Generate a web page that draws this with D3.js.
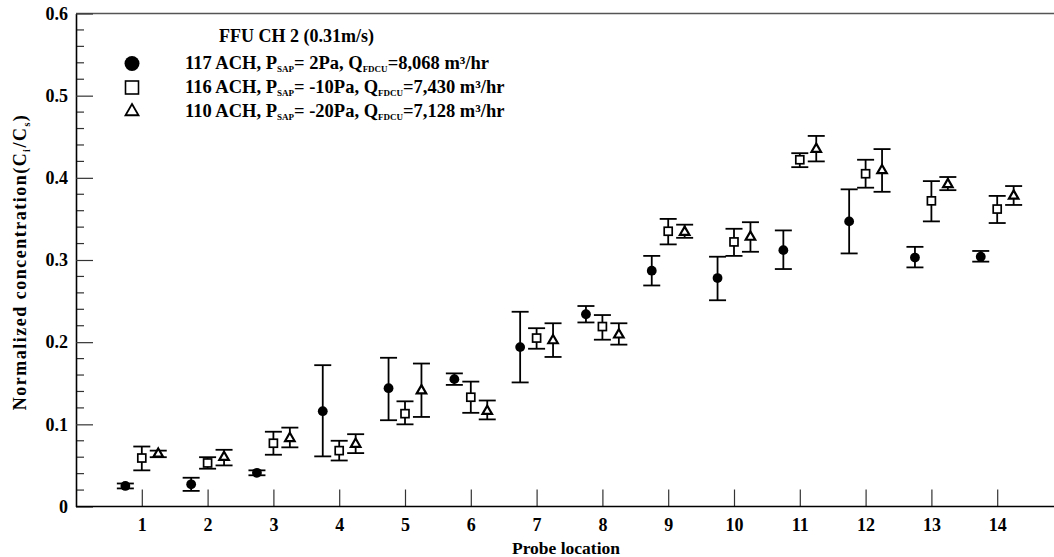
<!DOCTYPE html>
<html>
<head>
<meta charset="utf-8">
<script src="https://cdn.jsdelivr.net/npm/d3@7"></script>
<style>
body { margin: 0; background: #fff; }
svg { display: block; font-family: "Liberation Serif", "Times New Roman", serif; font-weight: bold; }
</style>
</head>
<body>
<svg id="chart" width="1054" height="557"></svg>
<script>
// probe locations
var probes = [1, 2, 3, 4, 5, 6, 7, 8, 9, 10, 11, 12, 13, 14];

// 117 ACH (filled circle)
var s1Mean = [0.025, 0.027, 0.041, 0.116, 0.144, 0.155, 0.194, 0.234, 0.287, 0.278, 0.312, 0.347, 0.303, 0.304];
var s1High = [0.028, 0.035, 0.044, 0.172, 0.181, 0.162, 0.237, 0.244, 0.305, 0.304, 0.336, 0.386, 0.316, 0.311];
var s1Low  = [0.022, 0.019, 0.038, 0.061, 0.105, 0.148, 0.151, 0.224, 0.269, 0.251, 0.289, 0.308, 0.291, 0.298];

// 116 ACH (open square)
var s2Mean = [0.059, 0.053, 0.077, 0.068, 0.113, 0.133, 0.205, 0.219, 0.335, 0.322, 0.422, 0.405, 0.372, 0.362];
var s2High = [0.073, 0.060, 0.091, 0.080, 0.128, 0.152, 0.217, 0.233, 0.350, 0.338, 0.430, 0.422, 0.396, 0.378];
var s2Low  = [0.044, 0.046, 0.063, 0.056, 0.100, 0.114, 0.192, 0.203, 0.319, 0.305, 0.413, 0.388, 0.347, 0.345];

// 110 ACH (open triangle)
var s3Mean = [0.064, 0.060, 0.083, 0.076, 0.141, 0.116, 0.202, 0.209, 0.334, 0.328, 0.435, 0.409, 0.392, 0.378];
var s3High = [0.068, 0.069, 0.096, 0.088, 0.174, 0.129, 0.223, 0.223, 0.343, 0.346, 0.451, 0.435, 0.401, 0.390];
var s3Low  = [0.060, 0.050, 0.072, 0.065, 0.109, 0.106, 0.182, 0.197, 0.327, 0.310, 0.420, 0.383, 0.385, 0.367];

var yTicks = [0, 0.1, 0.2, 0.3, 0.4, 0.5, 0.6];
var yTickLabels = ["0", "0.1", "0.2", "0.3", "0.4", "0.5", "0.6"];

var legendTitle = "FFU CH 2 (0.31m/s)";
var legendRows = [
	{ lead: "117 ACH, P", sub1: "SAP", mid: "= 2Pa, Q", sub2: "FDCU", tail: "=8,068 m\u00b3/hr" },
	{ lead: "116 ACH, P", sub1: "SAP", mid: "= -10Pa, Q", sub2: "FDCU", tail: "=7,430 m\u00b3/hr" },
	{ lead: "110 ACH, P", sub1: "SAP", mid: "= -20Pa, Q", sub2: "FDCU", tail: "=7,128 m\u00b3/hr" }
];

const svg = d3.select('#chart');
const plotLeft = 76, plotTop = 13.5, plotBottom = 506.5, plotRight = 1063;

const x = d3.scaleLinear().domain([0, 15]).range([plotLeft, plotRight]);
const y = d3.scaleLinear().domain([0, 0.6]).range([plotBottom, plotTop]);

// top frame line
svg.append('line').attr('x1', plotLeft).attr('x2', 1054).attr('y1', plotTop).attr('y2', plotTop)
	.attr('stroke', '#555').attr('stroke-width', 1.6);

// minor y ticks
const minor = d3.range(0, 0.6001, 0.02).filter(v => Math.abs(v * 10 - Math.round(v * 10)) > 1e-6);
svg.append('g').selectAll('line').data(minor).enter().append('line')
	.attr('x1', plotLeft).attr('x2', plotLeft + 8)
	.attr('y1', d => y(d)).attr('y2', d => y(d))
	.attr('stroke', '#333').attr('stroke-width', 1.2);

// y axis, ticks pointing inside
const yAxis = svg.append('g')
	.attr('transform', `translate(${plotLeft},0)`)
	.call(d3.axisLeft(y).tickValues(yTicks).tickFormat((d, i) => yTickLabels[i]).tickSize(-17).tickPadding(8).tickSizeOuter(0));
yAxis.select('.domain').attr('stroke', '#000').attr('stroke-width', 1.6);
yAxis.selectAll('.tick line').attr('stroke', '#333').attr('stroke-width', 1.2);
yAxis.selectAll('text').attr('font-size', 18).attr('font-weight', 'bold')
	.attr('font-family', '"Liberation Serif", serif').attr('fill', '#000');

// x axis
const xAxis = svg.append('g')
	.attr('transform', `translate(0,${plotBottom})`)
	.call(d3.axisBottom(x).tickValues(probes).tickFormat(d3.format('d')).tickSize(-17).tickPadding(12).tickSizeOuter(0));
xAxis.select('.domain').remove();
svg.append('line').attr('x1', plotLeft).attr('x2', 1054).attr('y1', plotBottom).attr('y2', plotBottom)
	.attr('stroke', '#000').attr('stroke-width', 1.6);
xAxis.selectAll('.tick line').attr('stroke', '#333').attr('stroke-width', 1.2);
xAxis.selectAll('text').attr('font-size', 18).attr('font-weight', 'bold')
	.attr('font-family', '"Liberation Serif", serif').attr('fill', '#000');

// axis titles
svg.append('text').attr('x', 566).attr('y', 554).attr('text-anchor', 'middle')
	.attr('font-size', 17.5).text('Probe location');

const yl = svg.append('text').attr('transform', 'translate(26,262) rotate(-90)')
	.attr('text-anchor', 'middle').attr('font-size', 18).attr('letter-spacing', '1.5px');
yl.append('tspan').text('Normalized concentration(C');
yl.append('tspan').attr('font-size', 10).attr('dy', 4).text('i');
yl.append('tspan').attr('dy', -4).text('/C');
yl.append('tspan').attr('font-size', 10).attr('dy', 4).text('s');
yl.append('tspan').attr('dy', -4).text(')');

// series drawing
const series = [
	{ mean: s1Mean, hi: s1High, lo: s1Low, off: -0.25, type: 'circle' },
	{ mean: s2Mean, hi: s2High, lo: s2Low, off: 0, type: 'square' },
	{ mean: s3Mean, hi: s3High, lo: s3Low, off: 0.25, type: 'triangle' }
];

function marker(g, type, cx, cy, big) {
	if (type == 'circle') {
		g.append('circle').attr('cx', cx).attr('cy', cy).attr('r', big ? 7.5 : 4.9).attr('fill', '#000');
	} else if (type == 'square') {
		const s = big ? 13 : 8;
		g.append('rect').attr('x', cx - s / 2).attr('y', cy - s / 2).attr('width', s).attr('height', s)
			.attr('fill', '#fff').attr('stroke', '#000').attr('stroke-width', big ? 1.6 : 1.7);
	} else {
		const side = big ? 13 : 9.5;
		const area = side * side * Math.sqrt(3) / 4;
		g.append('path').attr('d', d3.symbol().type(d3.symbolTriangle).size(area)())
			.attr('transform', `translate(${cx},${cy})`)
			.attr('fill', '#fff').attr('stroke', '#000').attr('stroke-width', big ? 1.8 : 2.2);
	}
}

series.forEach(s => {
	const g = svg.append('g');
	probes.forEach((p, i) => {
		const cx = x(p + s.off);
		g.append('line').attr('x1', cx).attr('x2', cx).attr('y1', y(s.hi[i])).attr('y2', y(s.lo[i]))
			.attr('stroke', '#000').attr('stroke-width', 1.8);
		[s.hi[i], s.lo[i]].forEach(v => {
			g.append('line').attr('x1', cx - 8.5).attr('x2', cx + 8.5).attr('y1', y(v)).attr('y2', y(v))
				.attr('stroke', '#000').attr('stroke-width', 1.8);
		});
		marker(g, s.type, cx, y(s.mean[i]), false);
	});
});

// legend
const lg = svg.append('g');
lg.append('text').attr('x', 219).attr('y', 42).attr('font-size', 18).text(legendTitle);
const rowY = [63.5, 87.5, 111.5];
legendRows.forEach((r, i) => {
	marker(lg, series[i].type, 132, rowY[i], true);
	const t = lg.append('text').attr('x', 185).attr('y', rowY[i] + 5.5).attr('font-size', 18.5);
	t.append('tspan').text(r.lead);
	t.append('tspan').attr('font-size', 9).attr('dy', 3).text(r.sub1);
	t.append('tspan').attr('dy', -3).text(r.mid);
	t.append('tspan').attr('font-size', 9).attr('dy', 3).text(r.sub2);
	t.append('tspan').attr('dy', -3).text(r.tail);
});
</script>
</body>
</html>
